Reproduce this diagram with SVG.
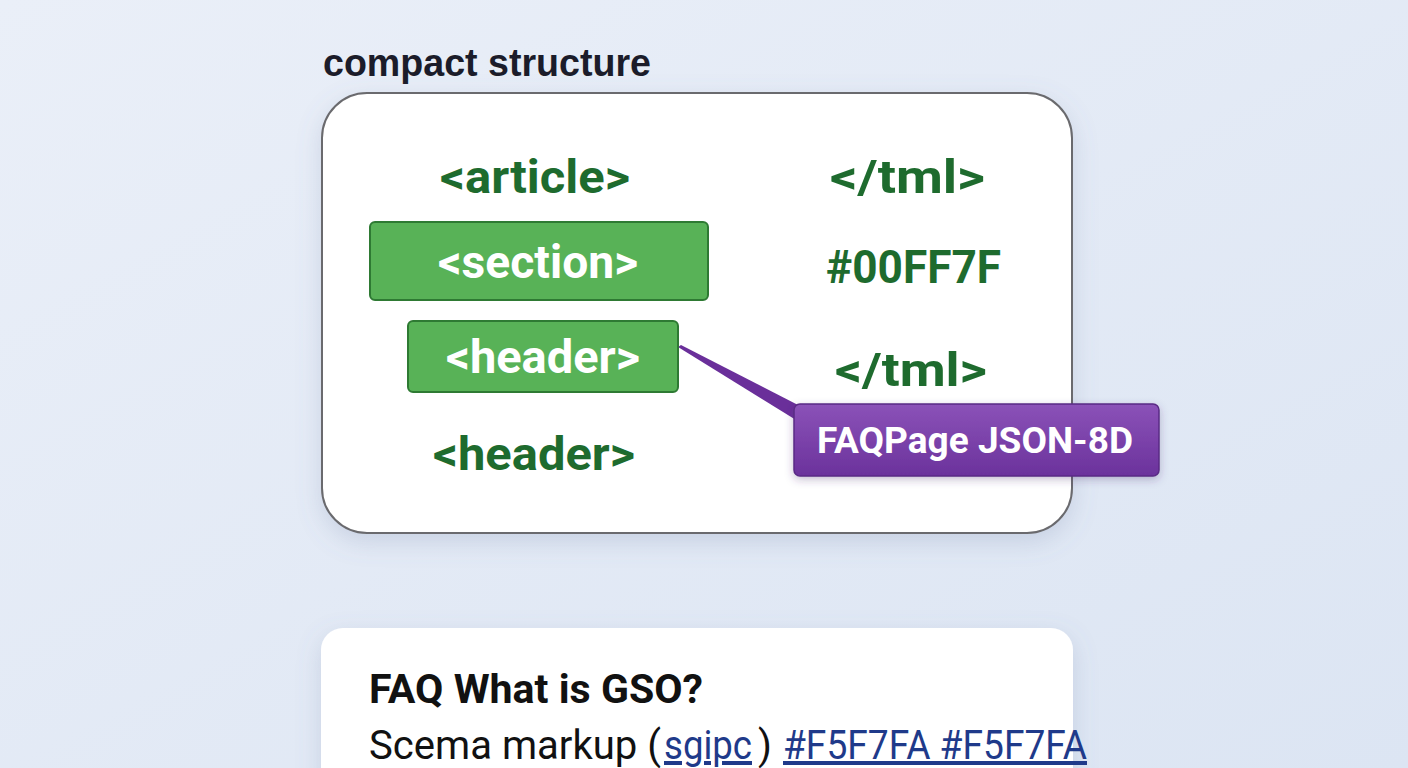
<svg xmlns="http://www.w3.org/2000/svg" width="1408" height="768" viewBox="0 0 1408 768">
<defs>
<linearGradient id="bg" x1="0" y1="0" x2="1" y2="1">
<stop offset="0" stop-color="#EAEFF8"/>
<stop offset="1" stop-color="#DCE5F3"/>
</linearGradient>
<linearGradient id="purp" x1="0" y1="0" x2="0" y2="1">
<stop offset="0" stop-color="#8B52B8"/>
<stop offset="1" stop-color="#6B329C"/>
</linearGradient>
<filter id="sh" x="-10%" y="-10%" width="120%" height="130%">
<feDropShadow dx="0" dy="8" stdDeviation="12" flood-color="#6a7ca0" flood-opacity="0.22"/>
</filter>
<filter id="sh2" x="-10%" y="-20%" width="120%" height="150%">
<feDropShadow dx="0" dy="3" stdDeviation="4" flood-color="#4a2a70" flood-opacity="0.3"/>
</filter>
<style>
.title{font-family:"Liberation Sans",Arial,sans-serif;font-weight:bold;font-size:38px;fill:#1B1C2A}
.tag{font-family:Roboto,"Liberation Sans",sans-serif;font-weight:bold;font-size:47px;fill:#1E6B2E;text-anchor:middle}
.gbox{fill:#58B257;stroke:#2E7A33;stroke-width:2}
.wt{font-family:Roboto,"Liberation Sans",sans-serif;font-weight:bold;font-size:46px;fill:#FFFFFF;text-anchor:middle}
.pt{font-family:Roboto,"Liberation Sans",sans-serif;font-weight:bold;font-size:36px;fill:#FFFFFF;text-anchor:middle}
.faq{font-family:Roboto,"Liberation Sans",sans-serif;font-weight:bold;font-size:41px;fill:#111111}
.body{font-family:Roboto,"Liberation Sans",sans-serif;font-size:40px;fill:#111111}
.lnk{fill:#1F3A8A;text-decoration:underline}
</style>
</defs>
<rect x="0" y="0" width="1408" height="768" fill="url(#bg)"/>
<text class="title" x="323" y="76" textLength="328" lengthAdjust="spacingAndGlyphs">compact structure</text>
<g id="main-card">
<rect x="322" y="93" width="750" height="440" rx="45" fill="#FFFFFF" stroke="#6B6B6E" stroke-width="2" filter="url(#sh)"/>
</g>
<g id="connectors">
<polygon points="678,347 681,345 800,406 796,420" fill="#6A2F9A"/>
</g>
<g id="article"><text class="tag" x="535" y="193" textLength="190" lengthAdjust="spacingAndGlyphs">&lt;article&gt;</text></g>
<g id="tml1"><text class="tag" x="907.5" y="193" textLength="155" lengthAdjust="spacingAndGlyphs">&lt;/tml&gt;</text></g>
<g id="section">
<rect class="gbox" x="370" y="222" width="338" height="78" rx="5"/>
<text class="wt" x="538" y="278" textLength="200" lengthAdjust="spacingAndGlyphs">&lt;section&gt;</text>
</g>
<g id="color"><text class="tag" x="913.5" y="283" textLength="175" lengthAdjust="spacingAndGlyphs">#00FF7F</text></g>
<g id="header1">
<rect class="gbox" x="408" y="321" width="270" height="71" rx="5"/>
<text class="wt" x="543" y="373" textLength="194" lengthAdjust="spacingAndGlyphs">&lt;header&gt;</text>
</g>
<g id="tml2"><text class="tag" x="911" y="386" textLength="152" lengthAdjust="spacingAndGlyphs">&lt;/tml&gt;</text></g>
<g id="header2"><text class="tag" x="534" y="470" textLength="202" lengthAdjust="spacingAndGlyphs">&lt;header&gt;</text></g>
<g id="faqpage">
<rect x="794" y="404" width="365" height="72" rx="6" fill="url(#purp)" stroke="#5A2A85" stroke-width="1.5" filter="url(#sh2)"/>
<text class="pt" x="975" y="453" textLength="316" lengthAdjust="spacingAndGlyphs">FAQPage JSON-8D</text>
</g>
<g id="faq-card">
<rect x="321" y="628" width="752" height="200" rx="22" fill="#FFFFFF" filter="url(#sh)"/>
<text class="faq" x="369" y="703" textLength="334" lengthAdjust="spacingAndGlyphs">FAQ What is GSO?</text>
<text class="body" x="369" y="759" textLength="292" lengthAdjust="spacingAndGlyphs">Scema markup (</text>
<text class="body lnk" x="664" y="759" textLength="88" lengthAdjust="spacingAndGlyphs">sgipc</text>
<text class="body" x="758" y="759">)</text>
<text class="body lnk" x="783" y="759" textLength="304" lengthAdjust="spacingAndGlyphs">#F5F7FA #F5F7FA</text>
</g>
</svg>
